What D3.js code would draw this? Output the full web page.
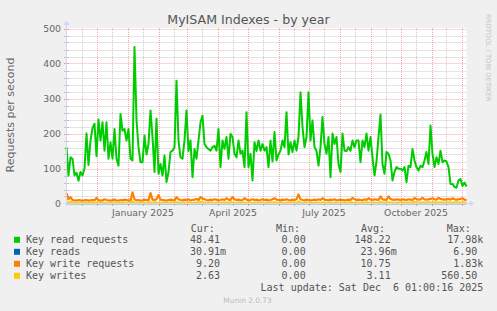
<!DOCTYPE html>
<html><head><meta charset="utf-8">
<script src="https://cdn.jsdelivr.net/npm/d3@7"></script>
<style>
html,body{margin:0;padding:0;background:#F0F0F0;}
svg{display:block;}
text{white-space:pre;}
</style></head><body>
<svg id="c" width="497" height="311"></svg>
<script>
// ---------- data ----------
const startDate = new Date(Date.UTC(2024, 10, 1));
const endDate = new Date(Date.UTC(2025, 11, 6));
const stepDays = 2;       // sample spacing of the main series
const blueStepDays = 4;   // sample spacing of the "Key reads" series

const keyReadRequests = [
 161,80,132,128,80,88,65,90,80,100,
 200,110,180,215,228,135,240,180,232,151,
 232,128,175,128,213,128,108,256,208,213,
 180,213,128,123,447,240,160,118,118,194,
 140,170,266,190,90,242,85,113,80,137,
 61,90,147,151,161,351,180,132,128,180,
 266,150,180,75,156,128,180,232,251,170,
 161,156,151,161,165,151,213,104,180,156,
 190,128,199,190,142,132,180,142,151,104,
 261,104,142,66,175,150,180,151,170,151,
 161,104,180,120,204,123,140,151,180,161,
 261,140,175,147,180,151,190,318,218,161,
 190,318,180,237,161,150,108,161,247,170,
 142,190,75,200,170,190,113,90,200,151,
 150,161,151,180,161,180,180,118,180,161,
 200,151,190,132,80,120,190,254,113,85,
 147,142,123,66,90,104,99,99,94,104,
 61,108,104,156,123,104,94,108,104,123,
 147,113,223,142,104,132,113,151,118,123,
 120,104,56,56,47,45,66,70,50,60,
 48.41];

const keyReads = [
 0.03,0.02,0.03,0.02,0.04,0.02,0.03,0.02,0.03,0.02,
 0.02,0.03,0.02,0.05,0.02,0.03,0.02,0.03,0.02,0.02,
 0.03,0.02,0.03,0.02,0.02,0.03,0.02,0.03,0.02,0.02,
 0.03,0.02,0.03,0.02,0.02,0.03,0.02,0.03,0.02,0.02,
 0.03,0.02,0.03,0.02,0.02,0.03,0.02,0.03,0.02,0.02,
 0.03,0.02,0.03,0.02,0.02,0.03,0.02,0.03,0.02,0.02,
 0.03,0.02,0.03,0.02,0.02,0.03,0.02,0.03,0.02,0.02,
 0.03,0.02,0.03,0.02,0.02,0.03,0.02,0.03,0.02,0.02,
 0.03,0.02,0.03,0.02,0.02,0.03,0.02,0.03,0.02,0.02,
 0.03,0.02,0.03,0.02,0.02,0.03,0.02,0.03,0.02,0.02,
 0.03];

const keyWriteRequests = [
 30,12,18,10,9,8,10,9,8,9,
 10,8,9,10,9,16,10,8,9,12,
 10,9,8,10,11,9,8,10,9,11,
 10,9,8,32,12,9,10,8,9,11,
 10,9,30,11,10,12,24,11,10,9,
 8,10,11,10,9,18,12,10,9,11,
 10,12,9,10,11,13,10,18,14,12,
 10,9,11,10,12,11,9,10,12,10,
 15,11,10,18,12,10,11,9,10,15,
 11,9,10,12,10,11,9,10,12,10,
 11,9,10,12,15,11,10,9,11,10,
 12,10,9,11,10,12,26,12,10,9,
 11,10,9,10,11,10,12,10,15,11,
 10,9,11,10,12,9,10,11,10,9,
 10,11,10,16,12,10,11,10,9,12,
 10,15,11,10,12,11,10,20,12,11,
 10,20,13,11,10,12,11,10,12,11,
 10,12,11,10,16,13,11,12,16,12,
 11,12,13,15,12,11,16,13,12,11,
 12,13,11,15,12,11,12,13,15,11,
 9.2];

const keyWrites = [
 4,3,5,3,2,3,3,2,3,2,
 3,2,3,3,2,4,3,2,3,3,
 2,3,2,3,3,2,3,2,3,3,
 2,3,2,6,3,2,3,2,3,3,
 2,5,3,3,4,3,2,3,2,3,
 3,2,4,3,3,4,3,2,3,3,
 2,3,3,2,3,3,4,5,4,3,
 3,2,3,3,2,3,3,2,4,3,
 3,3,4,3,2,3,3,2,4,3,
 2,3,3,2,3,3,2,3,3,2,
 3,2,3,3,4,3,2,3,3,2,
 3,3,2,3,3,2,6,3,2,3,
 3,2,3,3,2,3,3,2,4,3,
 2,3,3,2,3,3,2,3,3,2,
 3,3,4,3,2,3,3,2,3,3,
 4,3,2,3,3,2,3,5,3,3,
 3,4,3,3,2,3,3,3,4,3,
 3,3,3,4,5,3,3,3,4,3,
 3,4,3,3,4,3,3,4,3,3,
 3,4,3,3,3,4,3,3,4,3,
 2.63];

const yTickValues = [0, 100, 200, 300, 400, 500];
const xLabelMonths = ["2025-01", "2025-04", "2025-07", "2025-10"];
const seriesNames = ["Key read requests", "Key reads", "Key write requests", "Key writes"];
const curValues = ["48.41", "30.91m", "9.20", "2.63"];
const minValues = ["0.00", "0.00", "0.00", "0.00"];
const avgValues = ["148.22", "23.96m", "10.75", "3.11"];
const maxValues = ["17.98k", "6.90", "1.83k", "560.50"];
const titleText = "MyISAM Indexes - by year";
const yAxisTitle = "Requests per second";
const lastUpdate = "Last update: Sat Dec  6 01:00:16 2025";
const footer = "Munin 2.0.73";
const watermark = "RRDTOOL / TOBI OETIKER";

// ---------- drawing ----------
const colors = ["#00CC00", "#0066B3", "#FF8000", "#FFCC00"];
const svg = d3.select("#c");
const FONT = "'DejaVu Sans', sans-serif";
const MONO = "'DejaVu Sans Mono', monospace";
const fontCol = "#666666";

const x = d3.scaleUtc().domain([startDate, endDate]).range([66.5, 466.5]);
const y = d3.scaleLinear().domain([0, 500]).range([203.5, 28.5]);

// canvas
svg.append("rect").attr("x", 66.5).attr("y", 28).attr("width", 400).attr("height", 175.5).attr("fill", "#FFFFFF");

const gridG = svg.append("g");
const minorCol = "rgba(140,140,140,0.45)";
const majorCol = "rgba(240,110,110,0.6)";

// horizontal grid
const yMinor = d3.range(20, 501, 20).filter(v => v % 100 !== 0);
gridG.selectAll(".hm").data(yMinor).join("line")
  .attr("x1", 66.5).attr("x2", 466.5).attr("y1", d => Math.round(y(d)) + 0.5).attr("y2", d => Math.round(y(d)) + 0.5)
  .attr("stroke", minorCol).attr("stroke-dasharray", "1,1");
gridG.selectAll(".hM").data(yTickValues.filter(v => v > 0)).join("line")
  .attr("x1", 66.5).attr("x2", 466.5).attr("y1", d => Math.round(y(d)) + 0.5).attr("y2", d => Math.round(y(d)) + 0.5)
  .attr("stroke", majorCol).attr("stroke-dasharray", "1,1");

// vertical grid: month starts (major) and mid-months (minor)
const months = d3.utcMonth.range(startDate, endDate);
const majorDates = months.filter(d => d > startDate);
const minorDates = months.map(d => d3.utcDay.offset(d, 15)).filter(d => d < endDate);
const px = d => Math.round(x(d)) + 0.5;
gridG.selectAll(".vm").data(minorDates).join("line")
  .attr("x1", px).attr("x2", px).attr("y1", 28).attr("y2", 203.5)
  .attr("stroke", minorCol).attr("stroke-dasharray", "1,1");
gridG.selectAll(".vM").data(majorDates).join("line")
  .attr("x1", px).attr("x2", px).attr("y1", 28).attr("y2", 203.5)
  .attr("stroke", majorCol).attr("stroke-dasharray", "1,1");

// ticks on axes
gridG.selectAll(".tm").data(minorDates).join("line")
  .attr("x1", px).attr("x2", px).attr("y1", 201).attr("y2", 206).attr("stroke", minorCol);
gridG.selectAll(".tM").data(majorDates).join("line")
  .attr("x1", px).attr("x2", px).attr("y1", 201).attr("y2", 206).attr("stroke", majorCol);
gridG.selectAll(".ym").data(yMinor).join("line")
  .attr("x1", 64).attr("x2", 69).attr("y1", d => Math.round(y(d)) + 0.5).attr("y2", d => Math.round(y(d)) + 0.5).attr("stroke", minorCol);
gridG.selectAll(".yM").data(yTickValues.filter(v => v > 0)).join("line")
  .attr("x1", 64).attr("x2", 69).attr("y1", d => Math.round(y(d)) + 0.5).attr("y2", d => Math.round(y(d)) + 0.5).attr("stroke", majorCol);

// series lines
const dateAt = (i, step) => d3.utcDay.offset(startDate, i * step);
const seriesData = [
  {vals: keyReadRequests, step: stepDays, w: 2},
  {vals: keyReads, step: blueStepDays, w: 1.6},
  {vals: keyWriteRequests, step: stepDays, w: 2.2},
  {vals: keyWrites, step: stepDays, w: 1.8}
];
const line = d3.line().x(d => x(d[0])).y(d => y(d[1]));
seriesData.forEach((s, k) => {
  const pts = s.vals.map((v, i) => [dateAt(i, s.step), v]).filter(p => p[0] <= endDate);
  svg.append("path").attr("d", line(pts)).attr("fill", "none")
    .attr("stroke", colors[k]).attr("stroke-width", s.w).attr("stroke-linejoin", "round");
});

// axes lines with arrows
const axisCol = "#CFD6F8";
svg.append("line").attr("x1", 63).attr("x2", 471).attr("y1", 203.5).attr("y2", 203.5).attr("stroke", axisCol);
svg.append("path").attr("d", "M470,200.5 L474,203.5 L470,206.5 Z").attr("fill", axisCol);
svg.append("line").attr("x1", 66.5).attr("x2", 66.5).attr("y1", 206).attr("y2", 23).attr("stroke", axisCol);
svg.append("path").attr("d", "M63.5,25 L66.5,20.5 L69.5,25 Z").attr("fill", axisCol);

// y axis labels via d3 axis
const yAxis = svg.append("g").attr("transform", "translate(61,0)")
  .call(d3.axisLeft(y).tickValues(yTickValues).tickSize(0).tickPadding(0).tickFormat(d3.format("d")));
yAxis.select(".domain").remove();
yAxis.selectAll("text").attr("font-family", FONT).attr("font-size", "9.3px").attr("fill", fontCol).attr("dy", "0.36em");

// x axis labels (centred on the middle of the month)
const labelDates = xLabelMonths.map(s => d3.utcDay.offset(d3.utcParse("%Y-%m")(s), 15));
const xAxis = svg.append("g").attr("transform", "translate(0,207)")
  .call(d3.axisBottom(x).tickValues(labelDates).tickSize(0).tickPadding(0).tickFormat(d3.utcFormat("%B %Y")));
xAxis.select(".domain").remove();
xAxis.selectAll("text").attr("font-family", FONT).attr("font-size", "9.3px").attr("fill", fontCol).attr("dy", "0.95em");

// title
svg.append("text").attr("x", 248.5).attr("y", 23.5).attr("text-anchor", "middle")
  .attr("font-family", FONT).attr("font-size", "12.6px").attr("fill", "#555555").text(titleText);

// y axis title
svg.append("text").attr("transform", "translate(14,115) rotate(-90)").attr("text-anchor", "middle")
  .attr("font-family", FONT).attr("font-size", "11px").attr("fill", fontCol).text(yAxisTitle);

// watermark
svg.append("text").attr("transform", "translate(485.5,14) rotate(90)")
  .attr("font-family", FONT).attr("font-size", "6.8px").attr("fill", "#C4C4C4").text(watermark);

// legend
const L = svg.append("g").attr("font-family", MONO).attr("font-size", "10px").attr("fill", "#555555");
const headers = [["Cur:", 190.7], ["Min:", 276], ["Avg:", 361], ["Max:", 446.7]];
headers.forEach(h => L.append("text").attr("x", h[1]).attr("y", 231.5).text(h[0]));
const colRight = [226, 311.7, 396.7, 483.3];
const pad = s => /[0-9]$/.test(s) ? s + " " : s;
seriesNames.forEach((name, i) => {
  const by = 243.3 + i * 12;
  L.append("rect").attr("x", 14).attr("y", by - 6.5).attr("width", 6).attr("height", 6).attr("fill", colors[i]);
  L.append("text").attr("x", 26).attr("y", by).text(name);
  [curValues, minValues, avgValues, maxValues].forEach((col, c) => {
    L.append("text").attr("x", colRight[c]).attr("y", by).attr("text-anchor", "end").text(pad(col[i]));
  });
});
L.append("text").attr("x", 483.3).attr("y", 291).attr("text-anchor", "end").text(lastUpdate);

svg.append("text").attr("x", 247.5).attr("y", 303).attr("text-anchor", "middle")
  .attr("font-family", FONT).attr("font-size", "7.4px").attr("fill", "#BBBBBB").text(footer);
</script>
</body></html>
